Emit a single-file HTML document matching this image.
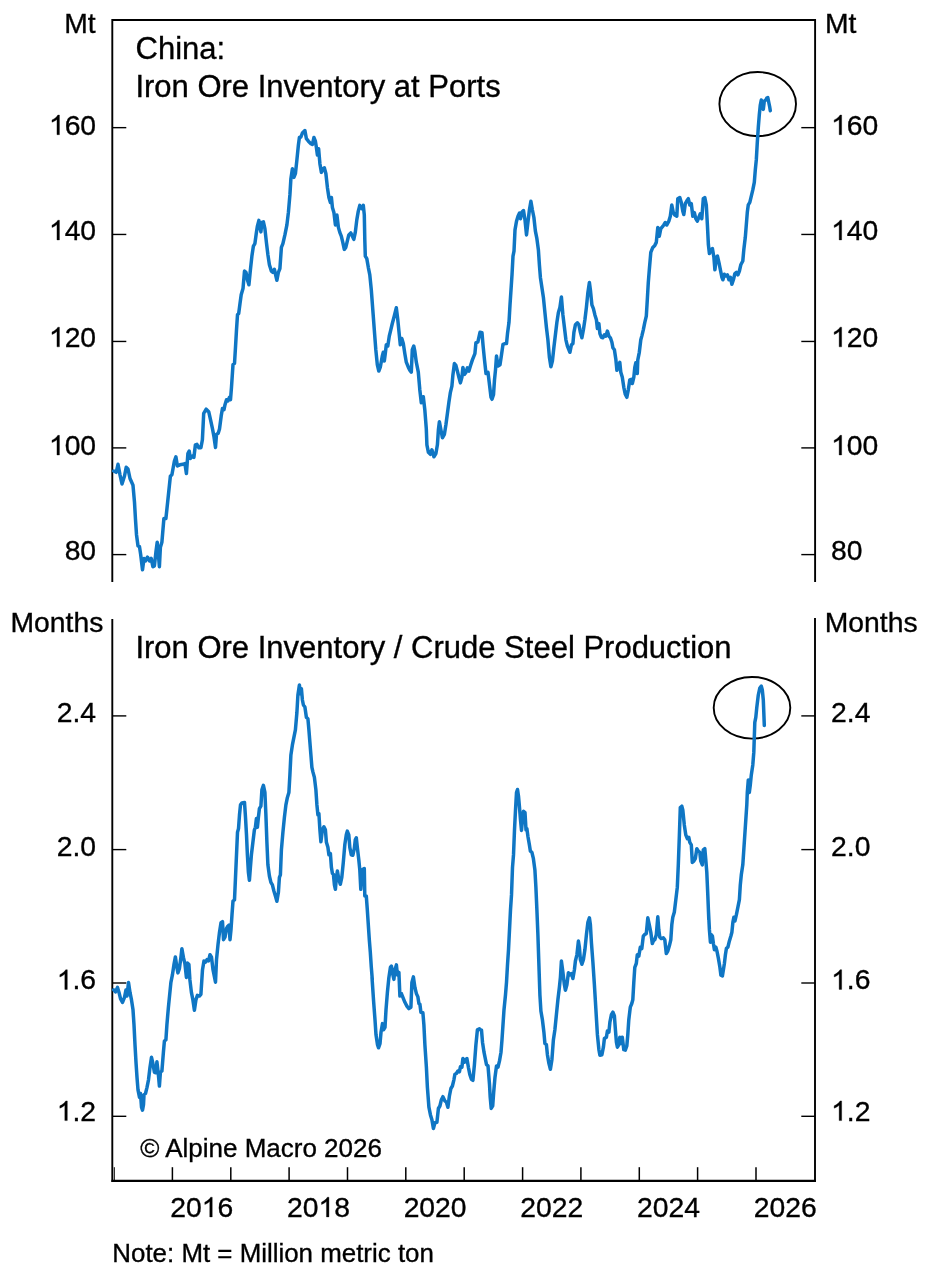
<!DOCTYPE html>
<html><head><meta charset="utf-8"><title>China Iron Ore Inventory</title>
<style>html,body{margin:0;padding:0;background:#fff}svg{display:block}text{font-family:"Liberation Sans",sans-serif;fill:#000;stroke:#000;stroke-width:0.35px}.t{filter:url(#idf)}</style></head><body>
<svg width="933" height="1277" viewBox="0 0 933 1277">
<defs><filter id="idf" x="0" y="0" width="933" height="1277" filterUnits="userSpaceOnUse" color-interpolation-filters="sRGB"><feOffset dx="0" dy="0"/></filter></defs>
<rect width="933" height="1277" fill="#fff"/>
<path d="M112.3,582 L112.3,20 L815.1,20 L815.1,582" fill="none" stroke="#000" stroke-width="1.9" stroke-linejoin="miter"/>
<line x1="112.3" y1="127.65" x2="126.3" y2="127.65" stroke="#000" stroke-width="1.4"/>
<line x1="801.3" y1="127.65" x2="815.1" y2="127.65" stroke="#000" stroke-width="1.4"/>
<line x1="112.3" y1="234.45" x2="126.3" y2="234.45" stroke="#000" stroke-width="1.4"/>
<line x1="801.3" y1="234.45" x2="815.1" y2="234.45" stroke="#000" stroke-width="1.4"/>
<line x1="112.3" y1="341.45" x2="126.3" y2="341.45" stroke="#000" stroke-width="1.4"/>
<line x1="801.3" y1="341.45" x2="815.1" y2="341.45" stroke="#000" stroke-width="1.4"/>
<line x1="112.3" y1="447.9" x2="126.3" y2="447.9" stroke="#000" stroke-width="1.4"/>
<line x1="801.3" y1="447.9" x2="815.1" y2="447.9" stroke="#000" stroke-width="1.4"/>
<line x1="112.3" y1="554.6" x2="126.3" y2="554.6" stroke="#000" stroke-width="1.4"/>
<line x1="801.3" y1="554.6" x2="815.1" y2="554.6" stroke="#000" stroke-width="1.4"/>
<ellipse cx="757.7" cy="104.1" rx="38.3" ry="32.1" fill="none" stroke="#000" stroke-width="1.9"/>
<path d="M113.7,471.0 L116.2,472.3 L118.0,464.3 L120.0,474.8 L122.0,484.0 L124.5,476.0 L126.2,467.3 L128.0,469.0 L130.0,478.5 L133.0,485.3 L134.5,502.3 L135.5,519.7 L136.5,534.7 L138.0,546.0 L139.5,546.7 L140.7,554.7 L142.5,569.7 L144.0,558.4 L145.5,560.9 L147.5,557.2 L149.5,560.9 L151.2,558.4 L152.9,566.7 L154.4,565.9 L155.9,552.2 L157.2,542.2 L158.4,554.7 L159.4,566.7 L160.4,547.2 L161.9,542.2 L163.9,518.5 L165.9,518.5 L167.9,499.8 L170.4,476.0 L171.9,474.8 L174.4,461.0 L175.9,456.8 L177.4,466.0 L179.9,464.8 L182.9,464.3 L184.9,463.5 L186.4,473.5 L187.9,453.6 L189.2,451.1 L190.4,458.5 L192.4,456.1 L193.9,457.3 L195.4,444.8 L196.9,444.3 L198.9,447.8 L200.9,447.8 L202.4,439.8 L203.7,413.4 L206.2,409.2 L208.7,411.7 L210.5,419.7 L212.5,428.9 L214.0,436.9 L215.5,447.4 L216.5,434.4 L218.2,433.2 L219.5,428.9 L221.2,415.9 L222.5,408.4 L224.0,409.7 L225.0,404.7 L226.5,399.7 L228.0,400.9 L229.5,397.2 L230.5,399.7 L231.5,387.2 L233.0,364.7 L234.5,363.5 L235.5,347.2 L236.5,329.8 L237.5,314.8 L238.7,313.5 L240.0,303.5 L241.2,294.8 L243.0,288.6 L244.5,271.1 L246.0,272.3 L247.4,279.8 L248.9,284.8 L250.4,269.8 L251.9,256.1 L253.4,246.1 L254.9,243.6 L256.4,232.4 L257.4,226.1 L258.9,220.4 L259.9,227.4 L260.9,231.9 L261.9,222.4 L263.4,221.9 L264.9,228.6 L266.4,242.4 L267.9,254.8 L269.4,264.8 L271.4,271.1 L272.9,272.3 L274.4,269.3 L275.9,276.1 L276.9,280.3 L278.4,272.3 L279.9,268.6 L281.4,247.4 L282.9,243.6 L284.9,234.9 L286.9,224.9 L288.4,212.4 L289.9,194.9 L290.9,178.7 L292.4,168.7 L293.9,177.4 L295.4,173.7 L296.9,159.9 L298.4,145.0 L299.4,137.5 L300.9,137.0 L302.4,133.0 L304.9,130.5 L306.4,138.7 L308.4,141.2 L310.9,143.7 L312.4,144.5 L313.9,137.5 L315.4,141.2 L316.4,147.5 L317.4,155.0 L318.6,148.7 L319.9,163.7 L321.4,172.4 L322.9,168.7 L324.4,167.9 L325.9,173.7 L327.4,187.4 L328.9,197.4 L330.4,202.4 L331.4,197.4 L332.4,207.4 L333.9,212.4 L335.4,224.9 L336.9,214.9 L338.4,227.4 L339.8,232.4 L341.3,236.1 L342.8,242.4 L344.3,249.4 L345.8,247.4 L347.3,241.1 L348.8,234.9 L350.8,232.9 L352.3,236.1 L353.8,239.4 L355.3,232.4 L356.8,219.9 L358.3,211.1 L359.8,205.4 L361.8,208.6 L363.3,205.4 L364.3,214.9 L364.8,239.9 L365.3,256.1 L366.8,258.6 L368.3,267.3 L369.8,274.8 L371.3,289.8 L372.8,309.8 L374.3,329.8 L375.8,349.7 L377.3,364.7 L378.8,371.0 L380.3,367.2 L382.3,356.0 L383.3,352.2 L384.3,361.0 L385.3,353.5 L386.3,344.7 L387.8,346.0 L389.3,336.0 L390.8,329.8 L392.3,323.5 L394.3,316.0 L396.3,307.8 L397.8,319.8 L399.3,334.8 L400.3,344.7 L401.8,338.5 L403.3,343.5 L404.8,353.5 L406.3,362.2 L408.3,367.2 L409.8,370.2 L411.3,372.2 L412.3,349.7 L413.8,346.0 L414.8,351.0 L416.3,362.2 L418.3,372.2 L419.8,389.7 L421.3,402.7 L423.3,396.7 L424.8,409.7 L426.3,428.9 L426.9,444.8 L428.4,452.3 L430.4,454.3 L431.9,449.8 L433.9,456.8 L435.9,453.5 L437.4,444.8 L438.4,429.8 L439.4,421.8 L440.9,429.8 L442.4,437.8 L444.4,434.3 L445.9,424.8 L447.4,413.6 L448.9,402.3 L450.4,392.3 L451.9,386.1 L452.9,374.9 L454.4,363.6 L455.9,365.4 L457.4,371.1 L458.9,377.4 L460.4,382.9 L461.9,377.4 L462.9,367.4 L464.4,374.4 L465.9,372.4 L467.4,367.9 L468.9,371.1 L470.4,366.1 L472.4,359.9 L474.9,353.6 L475.9,342.9 L477.9,341.9 L480.0,332.3 L482.0,332.8 L483.0,344.8 L484.5,359.8 L486.0,373.5 L488.0,372.3 L489.5,384.8 L491.0,397.3 L492.0,399.3 L493.5,394.8 L494.5,379.8 L495.5,369.8 L496.5,356.1 L498.0,366.1 L500.0,364.8 L501.5,354.8 L503.0,344.3 L505.0,343.6 L506.5,343.6 L507.5,333.6 L509.0,322.3 L510.0,304.9 L511.0,289.9 L512.0,274.9 L513.0,256.2 L514.0,251.2 L515.0,229.9 L516.5,221.2 L518.0,216.2 L519.5,213.0 L520.5,218.7 L522.0,212.0 L523.5,210.5 L525.0,220.0 L526.5,234.9 L527.9,222.5 L529.4,210.0 L530.9,201.2 L532.4,210.0 L533.9,217.5 L535.4,231.2 L536.9,238.7 L538.4,249.9 L539.4,264.9 L540.4,277.4 L541.9,287.4 L543.4,297.4 L544.9,312.4 L546.4,327.3 L547.9,339.8 L549.4,357.3 L550.9,366.8 L552.4,361.1 L553.9,347.3 L555.4,334.8 L556.9,322.3 L558.4,312.4 L559.9,307.4 L561.4,296.9 L562.9,314.9 L564.4,327.3 L565.9,339.8 L567.4,346.1 L568.9,349.8 L569.9,352.3 L571.4,344.8 L572.9,343.6 L573.9,332.3 L575.4,324.8 L577.4,322.8 L578.9,324.8 L580.4,332.3 L581.9,337.8 L583.4,329.8 L584.9,319.8 L586.4,307.4 L587.9,292.4 L589.4,282.4 L590.4,289.9 L591.9,304.9 L593.4,308.6 L594.9,314.9 L596.4,319.8 L597.4,328.6 L598.9,323.6 L599.9,333.6 L601.4,337.3 L602.9,337.8 L604.4,334.8 L605.9,336.1 L607.4,331.1 L608.9,336.1 L610.4,337.8 L611.9,342.3 L612.9,347.8 L614.4,349.8 L615.9,359.8 L616.9,370.3 L618.9,364.8 L619.8,362.3 L620.8,372.3 L622.3,377.3 L623.8,387.3 L625.3,394.3 L626.8,397.3 L628.3,389.8 L629.8,379.8 L631.3,379.3 L632.3,383.5 L633.8,377.3 L634.8,367.3 L635.8,362.8 L637.3,373.5 L637.8,359.8 L639.3,352.3 L640.8,339.8 L641.8,336.1 L643.3,329.8 L644.8,322.3 L646.3,316.1 L647.3,299.9 L648.3,282.4 L649.3,269.9 L650.8,252.4 L652.8,247.4 L654.8,245.4 L656.3,242.4 L657.8,227.4 L659.3,236.2 L660.8,228.7 L662.3,226.9 L663.8,225.0 L665.3,222.5 L666.8,225.0 L668.8,221.2 L670.3,216.2 L671.8,205.0 L673.3,212.5 L674.8,215.0 L676.8,216.2 L677.8,198.7 L679.8,197.5 L681.3,202.5 L682.8,211.2 L683.8,214.5 L685.3,203.7 L687.3,200.0 L688.3,198.7 L689.8,205.0 L691.3,203.7 L692.8,216.2 L694.3,212.5 L695.8,218.7 L697.3,221.2 L698.8,217.5 L700.3,213.7 L701.8,218.7 L703.3,198.7 L704.8,197.5 L706.3,205.0 L707.4,224.8 L708.4,244.8 L709.4,253.5 L710.9,249.8 L712.4,248.5 L713.9,257.3 L714.9,269.8 L716.4,257.3 L717.4,256.0 L718.9,262.3 L720.4,269.8 L721.9,277.3 L722.9,279.8 L724.4,274.3 L725.9,276.0 L727.4,274.8 L728.9,279.8 L730.4,277.3 L731.9,284.3 L733.4,279.8 L734.9,273.5 L736.4,272.3 L737.9,274.8 L739.4,271.0 L740.8,264.8 L742.8,261.0 L743.8,249.8 L745.3,237.3 L746.3,224.8 L747.3,212.3 L748.3,204.8 L749.8,202.3 L751.3,196.1 L752.8,189.9 L754.3,182.4 L755.3,169.9 L756.3,159.9 L757.3,142.4 L758.3,127.4 L759.3,114.9 L760.3,105.0 L761.3,100.0 L762.3,103.7 L763.3,109.4 L764.3,101.2 L765.8,100.0 L766.8,98.0 L767.8,97.5 L768.8,102.5 L769.8,107.4 L770.3,110.7" fill="none" stroke="#0F76C4" stroke-width="3.5" stroke-linejoin="round" stroke-linecap="round"/>
<line x1="112.3" y1="619" x2="112.3" y2="1181.9" stroke="#000" stroke-width="1.9"/>
<line x1="815.0" y1="618" x2="815.0" y2="1181.9" stroke="#000" stroke-width="1.9"/>
<line x1="111.5" y1="1180.9" x2="815.8" y2="1180.9" stroke="#000" stroke-width="2.1"/>
<line x1="112.3" y1="715.9" x2="126.3" y2="715.9" stroke="#000" stroke-width="1.4"/>
<line x1="801.3" y1="715.9" x2="815.0" y2="715.9" stroke="#000" stroke-width="1.4"/>
<line x1="112.3" y1="849.6" x2="126.3" y2="849.6" stroke="#000" stroke-width="1.4"/>
<line x1="801.3" y1="849.6" x2="815.0" y2="849.6" stroke="#000" stroke-width="1.4"/>
<line x1="112.3" y1="983.0" x2="126.3" y2="983.0" stroke="#000" stroke-width="1.4"/>
<line x1="801.3" y1="983.0" x2="815.0" y2="983.0" stroke="#000" stroke-width="1.4"/>
<line x1="112.3" y1="1116.3" x2="126.3" y2="1116.3" stroke="#000" stroke-width="1.4"/>
<line x1="801.3" y1="1116.3" x2="815.0" y2="1116.3" stroke="#000" stroke-width="1.4"/>
<ellipse cx="752" cy="707.8" rx="38.3" ry="30.8" fill="none" stroke="#000" stroke-width="1.9"/>
<path d="M113.7,989.9 L115.5,991.9 L117.5,987.4 L119.0,992.4 L120.5,998.6 L122.5,1002.4 L124.5,997.4 L126.0,989.9 L127.0,996.1 L128.5,982.4 L130.0,992.4 L131.5,999.9 L133.0,1009.8 L134.0,1024.8 L135.0,1044.8 L136.0,1062.3 L137.0,1077.3 L138.0,1089.8 L139.5,1097.3 L140.5,1093.5 L141.5,1107.2 L142.5,1110.2 L143.5,1104.7 L144.0,1094.8 L145.5,1093.5 L147.0,1087.3 L148.5,1079.8 L150.0,1067.3 L151.5,1057.3 L152.9,1063.5 L154.4,1072.3 L155.9,1072.8 L156.9,1061.8 L158.4,1074.8 L159.4,1086.0 L160.4,1072.3 L161.9,1071.0 L163.4,1052.3 L164.4,1041.1 L165.9,1039.8 L166.9,1024.8 L168.4,1007.4 L169.9,992.4 L170.9,982.4 L172.4,974.9 L173.9,964.9 L175.4,956.9 L176.9,967.4 L177.9,972.9 L179.4,968.6 L180.9,957.4 L181.9,948.7 L183.4,957.4 L184.9,963.6 L186.4,977.4 L187.4,962.9 L188.9,964.4 L189.9,979.9 L191.4,992.4 L192.9,999.9 L194.4,1010.3 L195.9,999.9 L197.4,995.4 L199.4,996.1 L200.9,994.4 L202.5,969.7 L204.0,960.9 L205.5,962.2 L207.0,959.7 L208.5,960.9 L210.0,954.7 L211.5,957.2 L213.0,969.7 L214.5,977.2 L215.5,982.2 L216.5,959.7 L218.0,944.7 L219.5,932.2 L221.0,922.7 L222.5,921.7 L223.5,939.7 L225.0,937.2 L226.5,928.5 L228.0,926.0 L229.0,925.2 L230.0,939.7 L231.0,929.7 L232.0,914.7 L233.0,901.0 L234.5,899.8 L235.5,877.3 L236.5,854.8 L237.5,832.3 L238.5,828.6 L239.5,814.8 L240.5,804.9 L242.0,802.9 L244.5,802.4 L245.5,817.3 L246.5,834.8 L247.4,854.8 L248.4,872.3 L249.4,880.3 L250.4,867.3 L251.4,854.8 L252.9,842.3 L254.4,829.8 L255.4,827.3 L256.4,818.6 L257.4,827.3 L258.4,817.3 L259.4,808.6 L260.9,806.1 L261.9,789.9 L263.4,785.4 L264.9,792.4 L265.9,814.8 L266.9,842.3 L267.9,864.8 L269.4,876.0 L270.9,882.3 L272.4,884.8 L273.9,891.0 L275.4,896.0 L276.9,901.3 L278.4,892.3 L279.4,877.3 L280.4,874.8 L281.4,849.8 L282.9,832.3 L284.4,817.3 L285.9,804.9 L287.4,797.4 L288.9,792.4 L289.9,774.9 L290.9,754.9 L292.4,744.9 L293.9,737.4 L295.4,729.9 L296.9,712.5 L297.9,695.0 L299.4,685.0 L300.4,693.7 L301.4,688.7 L302.4,700.0 L303.4,705.0 L304.9,707.0 L306.4,717.4 L307.9,718.7 L308.9,729.9 L309.9,742.4 L310.9,754.9 L311.9,767.4 L312.9,771.9 L314.4,777.4 L315.9,789.9 L316.9,804.9 L317.9,814.8 L318.9,813.6 L319.9,829.8 L320.9,841.8 L322.4,829.8 L323.9,826.8 L325.4,829.8 L326.4,842.3 L327.9,847.3 L328.9,854.8 L330.4,853.6 L331.4,867.3 L332.4,873.5 L333.4,874.3 L334.4,884.8 L335.4,889.3 L336.4,877.3 L337.4,871.0 L338.9,879.8 L340.3,884.3 L341.8,877.3 L343.3,862.3 L344.8,844.8 L346.3,834.8 L347.3,831.1 L348.8,834.8 L349.8,847.3 L351.3,854.8 L352.8,855.3 L354.3,848.6 L355.3,839.8 L356.3,837.8 L357.3,847.3 L358.8,859.8 L359.8,869.8 L360.8,889.3 L362.3,869.8 L364.3,868.5 L364.8,896.0 L366.3,896.0 L367.3,909.7 L368.3,924.7 L369.3,939.7 L370.3,952.2 L371.3,967.2 L372.3,979.7 L372.0,977.4 L373.5,999.8 L375.0,1019.8 L376.0,1034.8 L377.5,1044.8 L378.5,1047.8 L380.0,1043.6 L381.0,1032.3 L382.5,1023.6 L383.5,1029.8 L385.0,1027.3 L386.0,1009.8 L387.4,992.4 L388.9,977.4 L390.4,967.4 L391.4,966.1 L392.9,974.9 L393.9,979.4 L394.9,969.9 L396.4,964.9 L397.4,974.9 L398.9,972.4 L399.9,996.1 L401.4,993.6 L402.9,997.4 L404.9,1002.3 L406.9,1006.1 L408.9,1008.6 L410.9,1007.3 L411.9,982.4 L413.4,976.9 L414.9,987.4 L416.4,993.6 L417.9,996.9 L418.9,1003.6 L419.9,1004.3 L420.9,1012.3 L422.9,1012.8 L423.9,1024.8 L424.9,1044.8 L426.4,1067.3 L427.4,1087.3 L428.9,1107.2 L430.4,1114.7 L431.9,1119.7 L433.4,1128.5 L434.9,1122.7 L436.9,1122.2 L438.4,1108.5 L439.9,1106.0 L441.4,1099.7 L442.9,1096.7 L444.9,1101.0 L446.4,1102.2 L447.9,1107.2 L449.4,1096.0 L450.9,1088.5 L452.4,1086.0 L453.9,1079.8 L454.9,1074.3 L456.4,1073.5 L457.9,1071.0 L459.4,1071.8 L460.4,1066.8 L461.9,1067.3 L462.9,1058.5 L464.4,1062.3 L465.4,1059.8 L466.9,1058.5 L468.4,1067.3 L469.9,1074.8 L471.4,1079.3 L472.9,1080.3 L474.4,1064.8 L475.9,1044.8 L477.4,1029.8 L479.4,1028.8 L480.0,1029.7 L481.5,1030.2 L482.5,1042.2 L484.0,1052.2 L485.5,1059.7 L486.5,1064.7 L488.0,1065.9 L488.5,1072.2 L489.5,1084.4 L490.2,1097.1 L491.2,1108.4 L492.7,1105.9 L493.7,1092.2 L495.0,1077.2 L496.5,1065.9 L498.0,1067.2 L499.5,1060.9 L501.0,1052.2 L502.0,1039.7 L503.0,1024.7 L504.0,1009.7 L505.5,994.8 L506.5,982.3 L507.5,964.8 L508.5,949.8 L509.5,929.8 L510.5,909.8 L511.5,894.9 L512.5,867.4 L513.5,854.9 L514.5,829.9 L515.5,810.0 L516.5,792.5 L517.5,789.5 L518.5,796.2 L519.5,807.5 L520.5,819.9 L521.5,830.4 L522.5,819.9 L523.5,811.2 L525.0,812.5 L526.0,829.9 L526.9,828.7 L527.9,836.2 L529.4,844.9 L530.4,851.2 L531.9,852.4 L533.4,858.7 L534.9,869.9 L535.9,887.4 L536.9,909.8 L537.9,934.8 L538.9,964.8 L539.9,994.8 L540.9,1011.0 L542.4,1019.7 L543.9,1032.2 L544.9,1043.5 L546.4,1044.7 L547.4,1054.7 L548.9,1063.4 L550.4,1069.2 L551.9,1059.7 L553.4,1039.7 L554.9,1029.7 L556.4,1014.7 L557.9,999.8 L559.4,987.3 L560.4,977.3 L561.4,961.0 L562.9,972.3 L564.4,984.8 L565.4,990.3 L566.9,984.8 L568.4,972.8 L569.9,974.8 L571.4,973.5 L572.9,978.5 L574.4,969.8 L575.4,961.0 L576.9,954.8 L578.4,941.1 L579.4,947.3 L580.4,959.8 L581.9,964.3 L583.4,959.8 L584.9,949.8 L586.4,934.8 L587.9,922.3 L589.4,917.8 L590.4,924.8 L591.4,942.3 L592.9,962.3 L594.4,984.8 L595.9,1009.7 L597.4,1034.7 L598.9,1049.7 L599.9,1055.2 L601.9,1054.7 L603.4,1047.2 L604.4,1038.5 L606.4,1037.2 L607.4,1031.0 L608.9,1032.2 L609.9,1022.2 L611.4,1014.7 L612.9,1012.2 L614.4,1016.0 L615.4,1029.7 L616.4,1042.2 L617.4,1047.2 L618.9,1044.7 L619.8,1037.2 L621.3,1043.5 L622.3,1037.2 L623.8,1049.7 L625.3,1050.2 L626.8,1046.0 L627.8,1034.7 L628.8,1019.7 L630.3,1007.2 L631.8,1003.5 L632.8,999.8 L633.8,982.3 L634.8,967.3 L636.3,963.5 L637.3,954.8 L638.8,956.1 L640.3,947.3 L641.8,948.6 L643.3,936.1 L644.8,934.3 L646.3,933.6 L647.8,917.8 L649.3,924.8 L650.8,932.3 L652.3,943.6 L653.8,939.8 L654.8,939.8 L656.3,934.8 L657.8,916.8 L658.8,929.8 L659.8,937.3 L661.3,938.6 L663.3,937.8 L664.8,939.8 L666.3,953.6 L667.8,951.1 L669.3,946.1 L670.8,939.8 L671.8,924.8 L672.8,917.3 L674.3,912.3 L675.8,899.9 L677.3,887.4 L678.3,864.9 L679.3,837.4 L680.3,807.5 L681.8,806.2 L682.8,810.0 L684.3,824.9 L685.8,834.9 L687.3,838.7 L688.8,837.4 L689.8,842.4 L691.3,844.9 L692.3,862.4 L693.8,861.2 L695.3,858.7 L696.8,848.7 L698.3,851.2 L699.8,852.4 L700.8,861.2 L702.3,864.9 L703.3,849.9 L704.8,848.7 L705.8,859.9 L706.8,872.4 L707.8,894.9 L708.8,919.8 L708.4,909.7 L709.4,929.7 L710.4,942.2 L711.4,934.7 L712.4,936.0 L713.4,943.4 L714.4,949.7 L715.9,947.2 L716.9,950.9 L718.4,958.4 L719.9,967.2 L720.9,975.2 L722.4,975.9 L723.4,969.7 L724.4,963.4 L725.4,954.7 L726.4,948.4 L727.9,947.2 L729.4,940.9 L730.9,936.0 L731.9,932.2 L732.9,922.2 L733.9,917.2 L734.9,921.0 L736.4,914.7 L737.9,907.2 L739.4,899.7 L740.3,884.8 L741.3,874.8 L742.8,864.8 L743.8,849.8 L744.8,834.8 L745.8,819.8 L746.8,804.8 L747.3,792.4 L748.3,779.9 L749.3,792.4 L750.3,784.9 L751.3,774.9 L752.8,764.9 L753.8,752.4 L754.3,737.4 L754.8,722.4 L755.8,717.4 L756.8,707.4 L758.3,695.0 L759.8,688.0 L761.3,686.2 L762.3,690.0 L763.3,700.0 L763.8,712.4 L764.3,725.4" fill="none" stroke="#0F76C4" stroke-width="3.5" stroke-linejoin="round" stroke-linecap="round"/>
<line x1="114.3" y1="1167.2" x2="114.3" y2="1180.9" stroke="#000" stroke-width="1.0"/>
<line x1="172.4" y1="1167.2" x2="172.4" y2="1180.9" stroke="#000" stroke-width="1.5"/>
<line x1="230.8" y1="1167.2" x2="230.8" y2="1180.9" stroke="#000" stroke-width="1.5"/>
<line x1="289.1" y1="1167.2" x2="289.1" y2="1180.9" stroke="#000" stroke-width="1.5"/>
<line x1="347.5" y1="1167.2" x2="347.5" y2="1180.9" stroke="#000" stroke-width="1.5"/>
<line x1="405.8" y1="1167.2" x2="405.8" y2="1180.9" stroke="#000" stroke-width="1.5"/>
<line x1="464.2" y1="1167.2" x2="464.2" y2="1180.9" stroke="#000" stroke-width="1.5"/>
<line x1="522.6" y1="1167.2" x2="522.6" y2="1180.9" stroke="#000" stroke-width="1.5"/>
<line x1="580.9" y1="1167.2" x2="580.9" y2="1180.9" stroke="#000" stroke-width="1.5"/>
<line x1="639.3" y1="1167.2" x2="639.3" y2="1180.9" stroke="#000" stroke-width="1.5"/>
<line x1="697.6" y1="1167.2" x2="697.6" y2="1180.9" stroke="#000" stroke-width="1.5"/>
<line x1="756.0" y1="1167.2" x2="756.0" y2="1180.9" stroke="#000" stroke-width="1.5"/>
<g class="t">
<path transform="translate(48.90,134.7) scale(0.01382,-0.01336)" d="M763,0 L583,0 L583,1147 Q518,1085 412.5,1023 Q307,961 223,930 L223,1104 Q374,1175 487,1276 Q600,1377 647,1472 L763,1472 Z" fill="#000" stroke="#000" stroke-width="25.3"/>
<text transform="translate(64.63,134.7) scale(1,1.0)" font-size="28.3" text-anchor="start">60</text>
<path transform="translate(831.10,134.7) scale(0.01382,-0.01336)" d="M763,0 L583,0 L583,1147 Q518,1085 412.5,1023 Q307,961 223,930 L223,1104 Q374,1175 487,1276 Q600,1377 647,1472 L763,1472 Z" fill="#000" stroke="#000" stroke-width="25.3"/>
<text transform="translate(846.83,134.7) scale(1,1.0)" font-size="28.3" text-anchor="start">60</text>
<path transform="translate(48.90,239.9) scale(0.01382,-0.01336)" d="M763,0 L583,0 L583,1147 Q518,1085 412.5,1023 Q307,961 223,930 L223,1104 Q374,1175 487,1276 Q600,1377 647,1472 L763,1472 Z" fill="#000" stroke="#000" stroke-width="25.3"/>
<text transform="translate(64.63,239.9) scale(1,1.0)" font-size="28.3" text-anchor="start">40</text>
<path transform="translate(831.10,239.9) scale(0.01382,-0.01336)" d="M763,0 L583,0 L583,1147 Q518,1085 412.5,1023 Q307,961 223,930 L223,1104 Q374,1175 487,1276 Q600,1377 647,1472 L763,1472 Z" fill="#000" stroke="#000" stroke-width="25.3"/>
<text transform="translate(846.83,239.9) scale(1,1.0)" font-size="28.3" text-anchor="start">40</text>
<path transform="translate(48.90,346.85) scale(0.01382,-0.01336)" d="M763,0 L583,0 L583,1147 Q518,1085 412.5,1023 Q307,961 223,930 L223,1104 Q374,1175 487,1276 Q600,1377 647,1472 L763,1472 Z" fill="#000" stroke="#000" stroke-width="25.3"/>
<text transform="translate(64.63,346.85) scale(1,1.0)" font-size="28.3" text-anchor="start">20</text>
<path transform="translate(831.10,346.85) scale(0.01382,-0.01336)" d="M763,0 L583,0 L583,1147 Q518,1085 412.5,1023 Q307,961 223,930 L223,1104 Q374,1175 487,1276 Q600,1377 647,1472 L763,1472 Z" fill="#000" stroke="#000" stroke-width="25.3"/>
<text transform="translate(846.83,346.85) scale(1,1.0)" font-size="28.3" text-anchor="start">20</text>
<path transform="translate(48.90,455.0) scale(0.01382,-0.01336)" d="M763,0 L583,0 L583,1147 Q518,1085 412.5,1023 Q307,961 223,930 L223,1104 Q374,1175 487,1276 Q600,1377 647,1472 L763,1472 Z" fill="#000" stroke="#000" stroke-width="25.3"/>
<text transform="translate(64.63,455.0) scale(1,1.0)" font-size="28.3" text-anchor="start">00</text>
<path transform="translate(831.10,455.0) scale(0.01382,-0.01336)" d="M763,0 L583,0 L583,1147 Q518,1085 412.5,1023 Q307,961 223,930 L223,1104 Q374,1175 487,1276 Q600,1377 647,1472 L763,1472 Z" fill="#000" stroke="#000" stroke-width="25.3"/>
<text transform="translate(846.83,455.0) scale(1,1.0)" font-size="28.3" text-anchor="start">00</text>
<text transform="translate(64.63,559.5) scale(1,1.0)" font-size="28.3" text-anchor="start">80</text>
<text transform="translate(831.1,559.5) scale(1,1.0)" font-size="28.3" text-anchor="start">80</text>
<text transform="translate(64.2,33) scale(1,1.0)" font-size="28.3" text-anchor="start">Mt</text>
<text transform="translate(825,33) scale(1,1.0)" font-size="28.3" text-anchor="start">Mt</text>
<text transform="translate(135.6,58.7) scale(1,1.0)" font-size="31.0" text-anchor="start">China:</text>
<text transform="translate(135.4,96.9) scale(1,1.0)" font-size="31.0" text-anchor="start">Iron Ore Inventory at Ports</text>
<text transform="translate(56.76,722.1) scale(1,1.0)" font-size="28.3" text-anchor="start">2.4</text>
<text transform="translate(831.1,722.1) scale(1,1.0)" font-size="28.3" text-anchor="start">2.4</text>
<text transform="translate(56.76,856.1) scale(1,1.0)" font-size="28.3" text-anchor="start">2.0</text>
<text transform="translate(831.1,856.1) scale(1,1.0)" font-size="28.3" text-anchor="start">2.0</text>
<path transform="translate(56.76,989.4) scale(0.01382,-0.01336)" d="M763,0 L583,0 L583,1147 Q518,1085 412.5,1023 Q307,961 223,930 L223,1104 Q374,1175 487,1276 Q600,1377 647,1472 L763,1472 Z" fill="#000" stroke="#000" stroke-width="25.3"/>
<text transform="translate(72.5,989.4) scale(1,1.0)" font-size="28.3" text-anchor="start">.6</text>
<path transform="translate(831.10,989.4) scale(0.01382,-0.01336)" d="M763,0 L583,0 L583,1147 Q518,1085 412.5,1023 Q307,961 223,930 L223,1104 Q374,1175 487,1276 Q600,1377 647,1472 L763,1472 Z" fill="#000" stroke="#000" stroke-width="25.3"/>
<text transform="translate(846.83,989.4) scale(1,1.0)" font-size="28.3" text-anchor="start">.6</text>
<path transform="translate(56.76,1120.6) scale(0.01382,-0.01336)" d="M763,0 L583,0 L583,1147 Q518,1085 412.5,1023 Q307,961 223,930 L223,1104 Q374,1175 487,1276 Q600,1377 647,1472 L763,1472 Z" fill="#000" stroke="#000" stroke-width="25.3"/>
<text transform="translate(72.5,1120.6) scale(1,1.0)" font-size="28.3" text-anchor="start">.2</text>
<path transform="translate(831.10,1120.6) scale(0.01382,-0.01336)" d="M763,0 L583,0 L583,1147 Q518,1085 412.5,1023 Q307,961 223,930 L223,1104 Q374,1175 487,1276 Q600,1377 647,1472 L763,1472 Z" fill="#000" stroke="#000" stroke-width="25.3"/>
<text transform="translate(846.83,1120.6) scale(1,1.0)" font-size="28.3" text-anchor="start">.2</text>
<text transform="translate(10.5,631.7) scale(1,1.0)" font-size="28.3" text-anchor="start">Months</text>
<text transform="translate(824.8,631.8) scale(1,1.0)" font-size="28.3" text-anchor="start">Months</text>
<text transform="translate(135.4,657.9) scale(1,1.0)" font-size="31.0" text-anchor="start">Iron Ore Inventory / Crude Steel Production</text>
<text transform="translate(170.23,1216.9) scale(1,1.0)" font-size="28.3" text-anchor="start">20</text>
<path transform="translate(201.70,1216.9) scale(0.01382,-0.01336)" d="M763,0 L583,0 L583,1147 Q518,1085 412.5,1023 Q307,961 223,930 L223,1104 Q374,1175 487,1276 Q600,1377 647,1472 L763,1472 Z" fill="#000" stroke="#000" stroke-width="25.3"/>
<text transform="translate(217.43,1216.9) scale(1,1.0)" font-size="28.3" text-anchor="start">6</text>
<text transform="translate(286.93,1216.9) scale(1,1.0)" font-size="28.3" text-anchor="start">20</text>
<path transform="translate(318.40,1216.9) scale(0.01382,-0.01336)" d="M763,0 L583,0 L583,1147 Q518,1085 412.5,1023 Q307,961 223,930 L223,1104 Q374,1175 487,1276 Q600,1377 647,1472 L763,1472 Z" fill="#000" stroke="#000" stroke-width="25.3"/>
<text transform="translate(334.13,1216.9) scale(1,1.0)" font-size="28.3" text-anchor="start">8</text>
<text transform="translate(403.63,1216.9) scale(1,1.0)" font-size="28.3" text-anchor="start">2020</text>
<text transform="translate(520.33,1216.9) scale(1,1.0)" font-size="28.3" text-anchor="start">2022</text>
<text transform="translate(637.03,1216.9) scale(1,1.0)" font-size="28.3" text-anchor="start">2024</text>
<text transform="translate(753.73,1216.9) scale(1,1.0)" font-size="28.3" text-anchor="start">2026</text>
<text transform="translate(140.2,1157.3) scale(1,1.0)" font-size="26" text-anchor="start">© Alpine Macro 2026</text>
<text transform="translate(112.3,1261.7) scale(1,1.0)" font-size="25.9" text-anchor="start">Note: Mt = Million metric ton</text>
</g>
</svg></body></html>
